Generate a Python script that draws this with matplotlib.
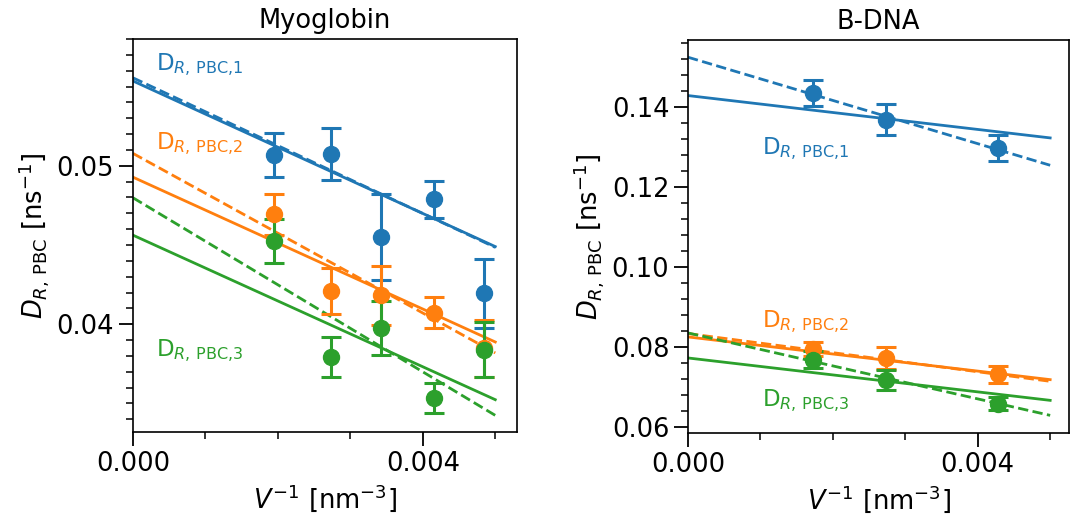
import matplotlib
matplotlib.use('Agg')
import matplotlib.pyplot as plt
import numpy as np
from matplotlib.ticker import MultipleLocator

colors = ['#1f77b4', '#ff7f0e', '#2ca02c']
labels = [r'D$_{R,\,\mathrm{PBC{,}1}}$', r'D$_{R,\,\mathrm{PBC{,}2}}$', r'D$_{R,\,\mathrm{PBC{,}3}}$']

# ---------------- Myoglobin ----------------
myo_x = [0.001944, 0.002733, 0.003417, 0.004159, 0.004848]
myo_d1 = [0.05067, 0.05074, 0.04549, 0.04789, 0.04194]
myo_e1 = [0.00137, 0.00163, 0.00270, 0.00117, 0.00218]
myo_d2 = [0.04695, 0.04211, 0.04183, 0.04072, 0.03848]
myo_e2 = [0.00130, 0.00145, 0.00187, 0.00097, 0.00180]
myo_d3 = [0.04524, 0.03794, 0.03977, 0.03535, 0.03840]
myo_e3 = [0.00139, 0.00126, 0.00170, 0.00095, 0.00174]
# linear fits: (intercept, slope) for solid and dashed lines
myo_solid = [(0.05535, -2.090), (0.04928, -2.080), (0.04562, -2.076)]
myo_dashed = [(0.05555, -2.140), (0.05078, -2.518), (0.04798, -2.746)]
myo_label_y = [0.05636, 0.05141, 0.03836]

# ---------------- B-DNA ----------------
dna_x = [0.001723, 0.002736, 0.004276]
dna_d1 = [0.14341, 0.13684, 0.12968]
dna_e1 = [0.00325, 0.00380, 0.00325]
dna_d2 = [0.07958, 0.07725, 0.07325]
dna_e2 = [0.00180, 0.00270, 0.00210]
dna_d3 = [0.07692, 0.07175, 0.06592]
dna_e3 = [0.00220, 0.00250, 0.00170]
dna_solid = [(0.14283, -2.114), (0.08258, -2.132), (0.07733, -2.116)]
dna_dashed = [(0.15240, -5.394), (0.08342, -2.384), (0.08358, -4.116)]
dna_label_y = [0.12951, 0.08649, 0.06668]

x_line_end = 0.005

FS = 18.5
fig = plt.figure(figsize=(10.71, 5.19), dpi=100)
ax1 = fig.add_axes([133/1071, 1 - 432/519, 384/1071, 393/519])
ax2 = fig.add_axes([688/1071, 1 - 433/519, 381/1071, 393/519])


def draw(ax, x, ds, es, solid, dashed, label_x, label_y):
    xl = np.linspace(0, x_line_end, 50)
    for i, c in enumerate(colors):
        b, m = solid[i]
        ax.plot(xl, b + m * xl, '-', color=c, lw=2)
        b, m = dashed[i]
        ax.plot(xl, b + m * xl, '--', color=c, lw=2)
    for i, c in enumerate(colors):
        ax.errorbar(x, ds[i], yerr=es[i], fmt='o', color=c, ms=11.5,
                    elinewidth=2.2, capsize=7, capthick=2.2, zorder=3)
        ax.text(label_x, label_y[i], labels[i], color=c, fontsize=16.5,
                ha='left', va='center')
    ax.xaxis.set_major_locator(MultipleLocator(0.004))
    ax.xaxis.set_minor_locator(MultipleLocator(0.001))
    ax.tick_params(which='major', length=10, width=1.3, labelsize=FS)
    ax.tick_params(which='minor', length=5, width=1.1)
    for s in ax.spines.values():
        s.set_linewidth(1.2)
    ax.set_xlabel(r'$V^{-1}$ [nm$^{-3}$]', fontsize=FS)
    ax.set_ylabel(r'$D_{R,\,\mathrm{PBC}}$ [ns$^{-1}$]', fontsize=FS)


draw(ax1, myo_x, [myo_d1, myo_d2, myo_d3], [myo_e1, myo_e2, myo_e3],
     myo_solid, myo_dashed, 0.00032, myo_label_y)
ax1.set_xlim(0, 0.0053)
ax1.set_ylim(0.0332, 0.0580)
ax1.yaxis.set_major_locator(MultipleLocator(0.01))
ax1.yaxis.set_minor_locator(MultipleLocator(0.001))
ax1.set_title('Myoglobin', fontsize=FS, pad=8)

draw(ax2, dna_x, [dna_d1, dna_d2, dna_d3], [dna_e1, dna_e2, dna_e3],
     dna_solid, dna_dashed, 0.00102, dna_label_y)
ax2.set_xlim(0, 0.00526)
ax2.set_ylim(0.0586, 0.1567)
ax2.yaxis.set_major_locator(MultipleLocator(0.02))
ax2.yaxis.set_minor_locator(MultipleLocator(0.004))
ax2.set_title('B-DNA', fontsize=FS, pad=8)

fig.savefig('out.png', dpi=100)
